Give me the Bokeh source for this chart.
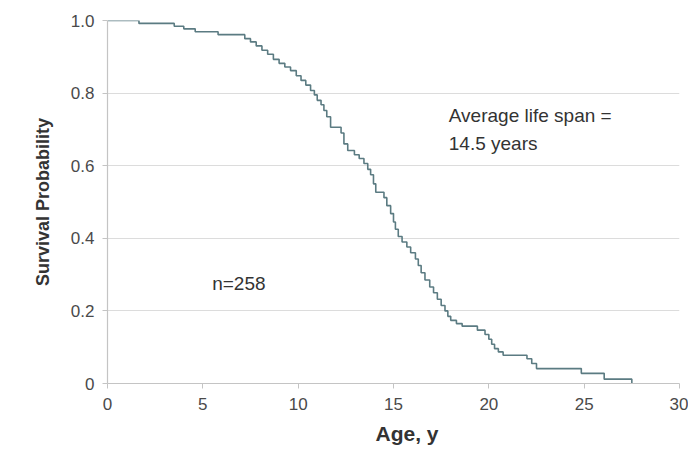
from bokeh.plotting import figure
from bokeh.models import FixedTicker, CustomJSTickFormatter, Range1d, Label, Title
from bokeh.embed import file_html
from bokeh.resources import INLINE

ages = [0, 1.65, 3.5, 4.0, 4.6, 5.8, 7.2, 7.5, 7.8, 8.1, 8.4, 8.7, 9.0, 9.3, 9.6,
        9.9, 10.15, 10.4, 10.65, 10.85, 11.0, 11.2, 11.35, 11.5, 11.7, 12.25, 12.4,
        12.6, 12.95, 13.2, 13.45, 13.65, 13.8, 13.95, 14.07, 14.5, 14.65, 14.85,
        15.0, 15.1, 15.25, 15.45, 15.7, 15.9, 16.15, 16.3, 16.45, 16.65, 16.9,
        17.1, 17.3, 17.5, 17.7, 17.85, 18.0, 18.3, 18.6, 19.4, 19.8, 20.0, 20.15,
        20.3, 20.5, 20.75, 22.0, 22.25, 22.5, 24.85, 26.05, 27.5]
survival = [1.0, 0.992, 0.984, 0.977, 0.969, 0.961, 0.950, 0.941, 0.930, 0.918,
            0.907, 0.893, 0.882, 0.872, 0.862, 0.848, 0.835, 0.822, 0.807, 0.795,
            0.780, 0.768, 0.752, 0.735, 0.706, 0.690, 0.660, 0.642, 0.630, 0.620,
            0.606, 0.590, 0.575, 0.550, 0.527, 0.512, 0.490, 0.468, 0.445, 0.425,
            0.405, 0.390, 0.376, 0.360, 0.343, 0.325, 0.305, 0.285, 0.266, 0.250,
            0.232, 0.215, 0.200, 0.185, 0.174, 0.165, 0.158, 0.147, 0.135, 0.122,
            0.108, 0.096, 0.087, 0.078, 0.068, 0.055, 0.041, 0.028, 0.012, 0.0]

x_ticks = [0, 5, 10, 15, 20, 25, 30]
y_ticks = [0, 0.2, 0.4, 0.6, 0.8, 1.0]

FONT = "Liberation Sans"

p = figure(width=688, height=466, output_backend="svg", toolbar_location=None,
           x_range=Range1d(0, 30), y_range=Range1d(0, 1.0),
           min_border_left=107, min_border_right=9, min_border_top=20,
           min_border_bottom=83)
p.outline_line_color = None
p.background_fill_color = "white"
p.border_fill_color = "white"

p.step(ages, survival, mode="after", line_color="#5b7b82", line_width=1.6)

p.xgrid.grid_line_color = None
p.ygrid.grid_line_color = "#dcdcdc"
p.ygrid.grid_line_width = 1.2

for ax in (p.xaxis[0], p.yaxis[0]):
    ax.axis_line_color = "#c4c4c4"
    ax.axis_line_width = 1.2
    ax.major_tick_line_color = "#c4c4c4"
    ax.major_tick_in = 0
    ax.major_tick_out = 5
    ax.minor_tick_line_color = None
    ax.major_label_text_font = FONT
    ax.major_label_text_font_size = "17px"
    ax.major_label_text_color = "#4a4a4a"
    ax.axis_label_text_font = FONT
    ax.axis_label_text_font_style = "bold"
    ax.axis_label_text_color = "#333333"

p.xaxis[0].ticker = FixedTicker(ticks=x_ticks)
p.yaxis[0].ticker = FixedTicker(ticks=y_ticks)
p.yaxis[0].formatter = CustomJSTickFormatter(code='return tick == 0 ? "0" : tick.toFixed(1);')
p.xaxis[0].major_label_standoff = 9
p.yaxis[0].major_label_standoff = 8

p.yaxis[0].axis_label = "Survival Probability"
p.yaxis[0].axis_label_text_font_size = "18px"
p.yaxis[0].axis_label_standoff = 15

# x-axis title, left-aligned with an offset as in the reference
p.add_layout(Title(text="Age, y", align="left", offset=268, standoff=14,
                   text_font=FONT, text_font_size="21px", text_font_style="bold",
                   text_color="#333333"), "below")

for txt, xx, yy in [("Average life span =", 17.9, 0.739), ("14.5 years", 17.9, 0.662),
                    ("n=258", 5.49, 0.275)]:
    p.add_layout(Label(x=xx, y=yy, text=txt, text_font=FONT, text_font_size="19px",
                       text_color="#333333", text_baseline="middle"))

open("out.html", "w").write(file_html(p, INLINE))
